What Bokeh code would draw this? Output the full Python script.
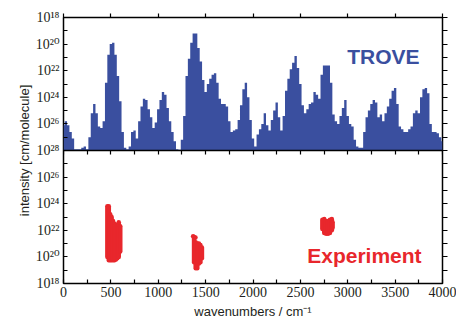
import math
from bokeh.plotting import figure
from bokeh.models import (Range1d, LogScale, LogAxis, LinearAxis, FixedTicker,
                          CustomJSTickFormatter, Label, ColumnDataSource)
from bokeh.embed import file_html
from bokeh.resources import INLINE

# ---------------- data ----------------
# TROVE computed spectrum envelope: wavenumber (cm^-1) and log10 intensity (cm/molecule)
trove_wn = list(range(0, 4001, 25))
trove_log10 = [
    -26.1, -25.8, -26.1, -26.6, -27.1, -27.9, -27.9, -27.9,
    -27.8, -27.7, -27.9, -27.0, -25.2, -24.5, -25.2, -26.2,
    -26.3, -25.8, -22.9, -20.8, -20.0, -19.9, -20.8, -22.4,
    -24.3, -26.6, -27.8, -27.9, -27.7, -26.6, -26.5, -27.1,
    -25.8, -24.7, -24.1, -24.2, -24.9, -25.5, -26.3, -25.9,
    -24.9, -24.2, -23.6, -23.8, -24.8, -25.8, -26.6, -27.3,
    -27.9, -27.95, -27.2, -25.4, -22.4, -21.1, -19.9, -19.2,
    -19.2, -20.3, -21.3, -22.7, -23.6, -23.0, -22.6, -22.3,
    -22.2, -22.9, -24.1, -24.5, -24.5, -24.7, -25.8, -26.6,
    -26.5, -26.4, -25.7, -24.6, -23.4, -22.9, -24.0, -25.7,
    -27.1, -27.7, -26.8, -26.4, -26.0, -25.2, -26.1, -26.5,
    -25.7, -25.0, -24.4, -25.5, -26.5, -25.4, -23.5, -22.6,
    -21.9, -21.4, -20.9, -21.8, -23.0, -24.6, -25.2, -24.9,
    -24.5, -24.4, -23.6, -23.8, -24.1, -22.3, -21.6, -21.6,
    -21.6, -22.9, -25.3, -25.8, -26.0, -25.4, -24.8, -24.2,
    -25.4, -26.0, -26.2, -27.2, -27.7, -27.8, -27.8, -26.6,
    -25.5, -25.0, -24.5, -24.2, -24.4, -25.5, -25.3, -25.8,
    -25.2, -24.7, -24.1, -23.5, -23.3, -24.5, -26.2, -26.4,
    -26.6, -26.6, -26.4, -26.2, -25.2, -25.0, -25.2, -24.0,
    -23.4, -23.3, -23.7, -26.0, -26.6, -26.6, -26.7, -27.0,
    -27.3,
]

# Experimental lines: per wavenumber column, weakest and strongest log10 intensity
exp_wn = [463, 478, 493, 508, 523, 538, 553, 568, 583, 599,
          1378, 1395, 1412, 1429, 1445, 1461,
          2732, 2752, 2772, 2792, 2812, 2832, 2840]
exp_weak = [-23.8, -23.8, -23.2, -23.0, -22.7, -22.5, -22.4, -22.4, -22.6, -22.3,
            -21.5, -21.1, -21.0, -21.0, -20.9, -20.7,
            -22.8, -22.85, -22.7, -22.7, -22.8, -22.85, -22.6]
exp_strong = [-20.0, -19.75, -19.75, -19.75, -19.75, -19.75, -19.8, -19.9, -20.0, -20.4,
              -19.6, -19.15, -19.15, -19.5, -19.6, -19.9,
              -22.1, -21.8, -21.75, -21.75, -21.8, -22.0, -22.2]
exp_dot_wn = [1368, 1393]
exp_dot_log10 = [-21.55, -21.45]

x_major = [0, 500, 1000, 1500, 2000, 2500, 3000, 3500, 4000]
x_minor = [250, 750, 1250, 1750, 2250, 2750, 3250, 3750]
top_major_exp = [-28, -26, -24, -22, -20, -18]     # upper panel (TROVE) labels
bot_major_exp = [-26, -24, -22, -20, -18]          # lower panel (Experiment) labels

# ---------------- styling ----------------
BLUE = "#3a4f9f"
RED = "#e8272c"
TXT = "#231f20"
SERIF = "'Liberation Serif', 'DejaVu Serif', serif"
SANS = "Liberation Sans"

# The lower panel is a mirror image of the upper one about 1e-28:
# a lower-panel intensity 10^e sits where the upper scale reads 10^(-56 - e).
MIRROR = -56

trove_src = ColumnDataSource(dict(
    x=trove_wn, top=[10 ** v for v in trove_log10],
    base=[1e-28] * len(trove_wn)))
exp_src = ColumnDataSource(dict(
    x=exp_wn, y0=[10 ** v for v in exp_weak], y1=[10 ** v for v in exp_strong]))
dot_src = ColumnDataSource(dict(x=exp_dot_wn, y=[10 ** v for v in exp_dot_log10]))

p = figure(frame_width=379, frame_height=266,
           x_range=Range1d(0, 4000), y_range=Range1d(1e-38, 1e-18),
           y_axis_type="log", output_backend="svg", toolbar_location=None,
           title=None, min_border_left=63, min_border_right=14,
           min_border_top=17, min_border_bottom=38)
# reversed log scale for the experimental (lower) panel
p.extra_y_ranges = {"exp": Range1d(start=1e-18, end=1e-38)}
p.extra_y_scales = {"exp": LogScale()}
p.xgrid.visible = False
p.ygrid.visible = False
p.outline_line_color = "black"
p.outline_line_width = 1.5
p.background_fill_color = "white"
p.border_fill_color = "white"

sup_code = """
const s = {'0':'\u2070','1':'\u00b9','2':'\u00b2','3':'\u00b3','4':'\u2074','5':'\u2075','6':'\u2076','7':'\u2077','8':'\u2078','9':'\u2079'};
let e = Math.round(Math.log10(tick));
if (e < -28) { e = MIRROR - e; }
e = Math.abs(e);
return '10' + String(e).split('').map(c => s[c]).join('');
""".replace("MIRROR", str(MIRROR))
blank = CustomJSTickFormatter(code="return ''")

def tick_only(ax, tick_out, tick_in):
    ax.formatter = blank
    ax.major_label_text_font_size = "1px"
    ax.major_label_standoff = 0
    ax.axis_line_color = None
    ax.major_tick_line_color = "black"
    ax.major_tick_line_width = 1.2
    ax.major_tick_out = tick_out
    ax.major_tick_in = tick_in
    ax.minor_tick_line_color = None

# TROVE spectrum as filled histogram
p.varea_step(x="x", y1="base", y2="top", source=trove_src, step_mode="center",
             fill_color=BLUE)

# experiment
p.segment(x0="x", y0="y0", x1="x", y1="y1", source=exp_src, y_range_name="exp",
          line_color=RED, line_width=4.5, line_cap="round")
p.scatter(x="x", y="y", source=dot_src, y_range_name="exp", size=4.5,
          fill_color=RED, line_color=None)

# left axis: labels for both panels
left_ticks = [10.0 ** e for e in top_major_exp] + [10.0 ** (MIRROR - e) for e in bot_major_exp]
left_minor = [10.0 ** e for e in range(-37, -18) if e % 2 != 0]
ly = p.yaxis[0]
ly.ticker = FixedTicker(ticks=left_ticks, minor_ticks=left_minor)
ly.formatter = CustomJSTickFormatter(code=sup_code)
ly.axis_line_color = None
ly.major_tick_in = 4
ly.major_tick_out = 0
ly.minor_tick_in = 4
ly.minor_tick_out = 0
ly.major_tick_line_width = 1.2
ly.minor_tick_line_width = 1.2
ly.major_label_standoff = 4
ly.major_label_text_font = SERIF
ly.major_label_text_font_size = "14px"
ly.major_label_text_color = TXT
ly.axis_label = "intensity [cm/molecule]"
ly.axis_label_text_font = SANS
ly.axis_label_text_font_size = "13px"
ly.axis_label_text_font_style = "normal"
ly.axis_label_text_color = TXT
ly.axis_label_standoff = 1

# right axis: a tick at every decade in both panels
ry = LogAxis(ticker=FixedTicker(ticks=[10.0 ** e for e in range(-37, -17)], minor_ticks=[]))
tick_only(ry, 5, 0)
p.add_layout(ry, "right")

# bottom axis
bx = p.xaxis[0]
bx.ticker = FixedTicker(ticks=x_major, minor_ticks=x_minor)
bx.axis_line_color = None
bx.major_tick_in = 4
bx.major_tick_out = 0
bx.minor_tick_in = 4
bx.minor_tick_out = 0
bx.major_tick_line_width = 1.2
bx.minor_tick_line_width = 1.2
bx.major_label_standoff = 3
bx.major_label_text_font = SERIF
bx.major_label_text_font_size = "14px"
bx.major_label_text_color = TXT
bx.axis_label = "wavenumbers / cm\u207b\u00b9"
bx.axis_label_text_font = SANS
bx.axis_label_text_font_size = "13px"
bx.axis_label_text_font_style = "normal"
bx.axis_label_text_color = TXT
bx.axis_label_standoff = 4

# top axis
tx = LinearAxis(ticker=FixedTicker(ticks=x_major, minor_ticks=[]))
tick_only(tx, 4, 0)
p.add_layout(tx, "above")

# middle boundary axis between the panels
mx = LinearAxis(fixed_location=1e-28, ticker=FixedTicker(ticks=x_major + x_minor, minor_ticks=[]))
tick_only(mx, 4, 0)
mx.axis_line_color = "black"
mx.axis_line_width = 1.5
p.add_layout(mx, "below")

# panel labels
p.add_layout(Label(x=2994, y=10 ** -20.9, text="TROVE", text_font=SANS,
                   text_font_size="21px", text_font_style="bold",
                   text_color=BLUE, text_baseline="alphabetic"))
p.add_layout(Label(x=2572, y=10 ** -20.1, y_range_name="exp", text="Experiment",
                   text_font=SANS, text_font_size="21px", text_font_style="bold",
                   text_color=RED, text_baseline="alphabetic"))

open("out.html", "w", encoding="utf-8").write(file_html(p, INLINE))
